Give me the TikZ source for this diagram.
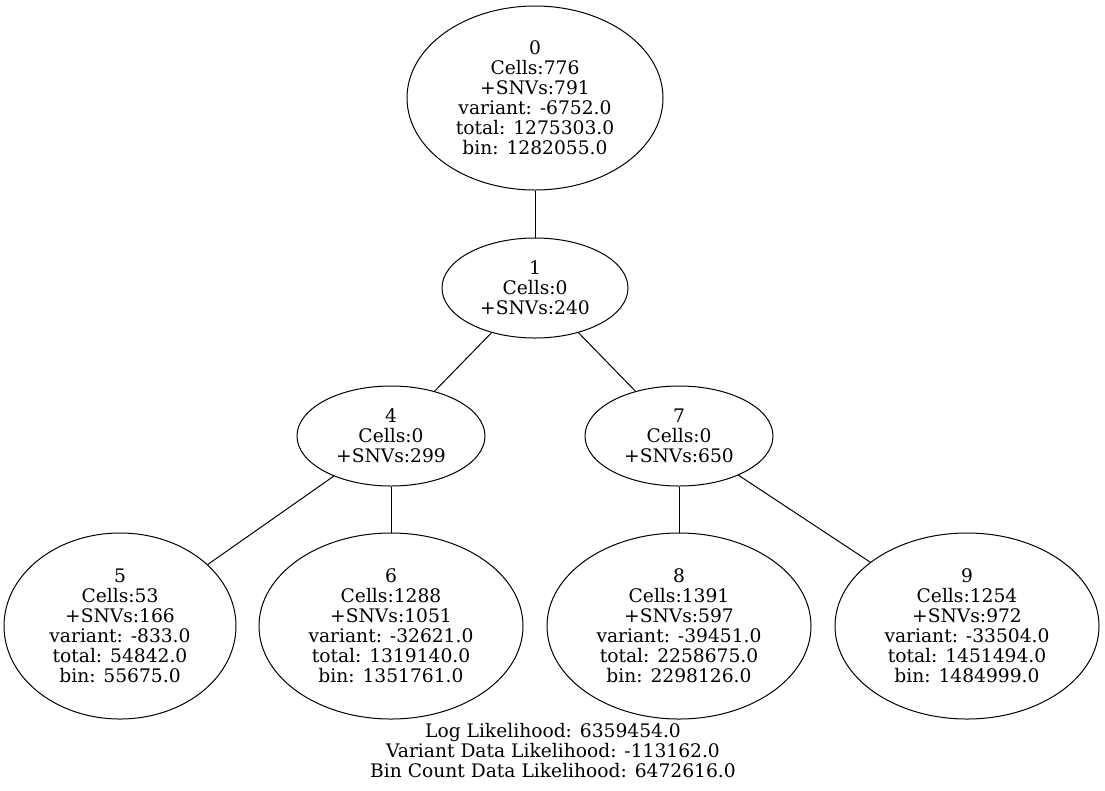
\documentclass[tikz,border=0pt]{standalone}
\usepackage{fontspec}
\setmainfont{DejaVu Serif}
\usetikzlibrary{shapes.geometric}
\begin{document}
\begin{tikzpicture}[x=0.75pt,y=-0.75pt,
  tn/.style={draw,ellipse,inner sep=0pt,align=center,line width=0.75pt,
    font=\fontsize{14}{15}\selectfont},
  small/.style={tn,minimum width=141pt,minimum height=75pt},
  big/.style={tn,minimum width=198pt,minimum height=139.5pt},
  edge/.style={line width=0.75pt}]
\useasboundingbox (0,0) rectangle (1105,790);
\node[tn,minimum width=192pt,minimum height=138pt] (n0) at (535,98)
  {0\\Cells:776\\+SNVs:791\\variant: -6752.0\\total: 1275303.0\\bin: 1282055.0};
\node[tn,minimum width=139.5pt,minimum height=75pt] (n1) at (535,288)
  {1\\Cells:0\\+SNVs:240};
\node[small] (n4) at (391,436) {4\\Cells:0\\+SNVs:299};
\node[small] (n7) at (679,436) {7\\Cells:0\\+SNVs:650};
\node[tn,minimum width=174pt,minimum height=139.5pt] (n5) at (120,626)
  {5\\Cells:53\\+SNVs:166\\variant: -833.0\\total: 54842.0\\bin: 55675.0};
\node[big] (n6) at (391,626)
  {6\\Cells:1288\\+SNVs:1051\\variant: -32621.0\\total: 1319140.0\\bin: 1351761.0};
\node[big] (n8) at (679,626)
  {8\\Cells:1391\\+SNVs:597\\variant: -39451.0\\total: 2258675.0\\bin: 2298126.0};
\node[big] (n9) at (967,626)
  {9\\Cells:1254\\+SNVs:972\\variant: -33504.0\\total: 1451494.0\\bin: 1484999.0};
\node[align=center,inner sep=0pt,font=\fontsize{14}{15}\selectfont] (lbl) at (553,751)
  {Log Likelihood: 6359454.0\\Variant Data Likelihood: -113162.0\\Bin Count Data Likelihood: 6472616.0};
\draw[edge] (n0) -- (n1);
\draw[edge] (n1) -- (n4);
\draw[edge] (n1) -- (n7);
\draw[edge] (n4) -- (n5);
\draw[edge] (n4) -- (n6);
\draw[edge] (n7) -- (n8);
\draw[edge] (n7) -- (n9);
\end{tikzpicture}
\end{document}
